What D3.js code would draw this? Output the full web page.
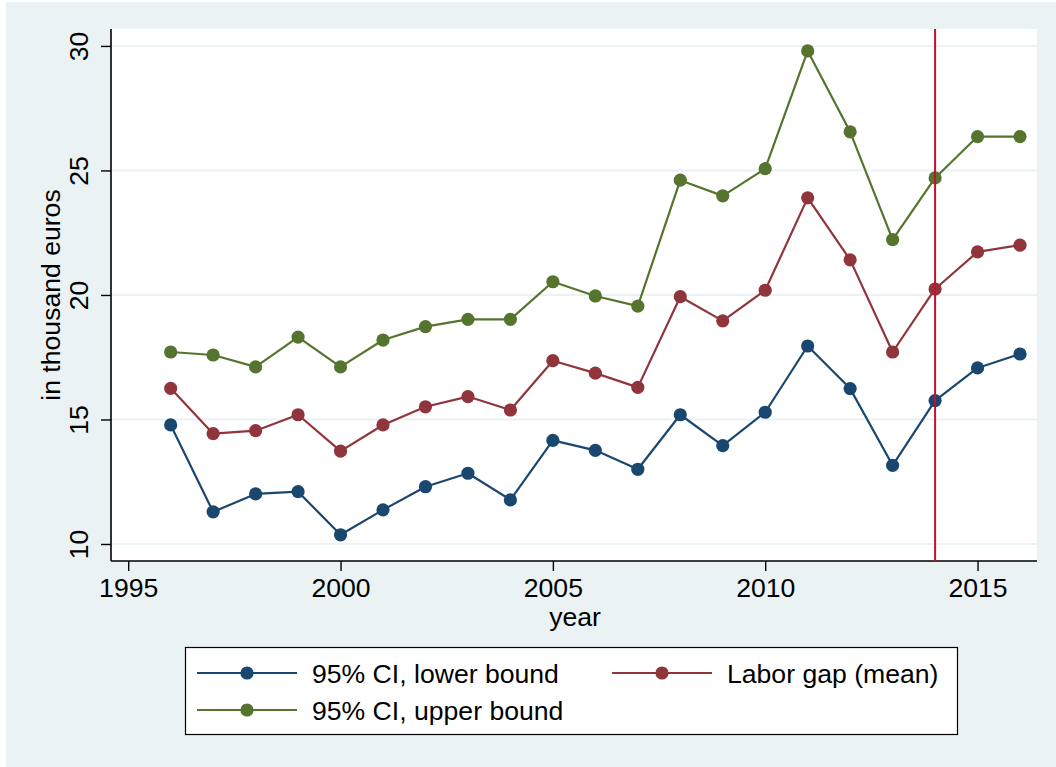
<!DOCTYPE html>
<html>
<head>
<meta charset="utf-8">
<script src="https://cdn.jsdelivr.net/npm/d3@7"></script>
<style>
  html, body { margin: 0; padding: 0; background: #ffffff; }
  svg { display: block; font-family: "Liberation Sans", Arial, sans-serif; }
</style>
</head>
<body>
<svg id="chart" width="1056" height="767"></svg>
<script>
// Labor gap estimates by year, in thousand euros
const years = [1996, 1997, 1998, 1999, 2000, 2001, 2002, 2003, 2004, 2005, 2006,
               2007, 2008, 2009, 2010, 2011, 2012, 2013, 2014, 2015, 2016];
const lowerBound = [14.78, 11.29, 12.01, 12.10, 10.37, 11.37, 12.30, 12.84, 11.77, 14.16, 13.76,
                    13.00, 15.19, 13.95, 15.29, 17.95, 16.24, 13.16, 15.76, 17.07, 17.63];
const meanGap    = [16.25, 14.43, 14.55, 15.19, 13.73, 14.78, 15.51, 15.92, 15.38, 17.36, 16.86,
                    16.29, 19.93, 18.96, 20.19, 23.90, 21.41, 17.71, 20.24, 21.73, 22.00];
const upperBound = [17.71, 17.59, 17.11, 18.31, 17.11, 18.19, 18.73, 19.02, 19.02, 20.53, 19.96,
                    19.55, 24.61, 23.98, 25.07, 29.80, 26.55, 22.22, 24.70, 26.36, 26.36];
const xTicks = [1995, 2000, 2005, 2010, 2015];
const yTicks = [10, 15, 20, 25, 30];
const markerYear = 2014;

const seriesNames = ["95% CI, lower bound", "Labor gap (mean)", "95% CI, upper bound"];
const seriesColors = ["#1a476f", "#90353b", "#55752f"];
const seriesValues = [lowerBound, meanGap, upperBound];

const svg = d3.select("#chart");
const W = 1056, H = 767;
const fontSize = 26.6;
const markerR = 6.6;

// outer graph region
svg.append("rect").attr("x", 6).attr("y", 2).attr("width", W - 6).attr("height", H - 2)
  .attr("fill", "#eaf2f3");

// plot region
const plot = { left: 111, right: 1037, top: 29, bottom: 561 };
svg.append("rect").attr("x", plot.left).attr("y", plot.top)
  .attr("width", plot.right - plot.left).attr("height", plot.bottom - plot.top)
  .attr("fill", "#ffffff");

const x = d3.scaleLinear().domain([1994.595, 2016.4]).range([plot.left, plot.right]);
const y = d3.scaleLinear().domain([9.317, 30.68]).range([plot.bottom, plot.top]);

// horizontal grid lines
svg.append("g").selectAll("line").data(yTicks).join("line")
  .attr("x1", plot.left).attr("x2", plot.right)
  .attr("y1", d => y(d)).attr("y2", d => y(d))
  .attr("stroke", "#eaf2f3").attr("stroke-width", 2);

// y axis
const yAxis = svg.append("g").attr("transform", `translate(${plot.left},0)`)
  .call(d3.axisLeft(y).tickValues(yTicks).tickSize(10).tickPadding(0).tickFormat(d3.format("d")));
yAxis.select(".domain").attr("stroke", "#000").attr("stroke-width", 1.6)
  .attr("d", `M0,${plot.top}V${plot.bottom}`);
yAxis.selectAll(".tick line").attr("stroke", "#000").attr("stroke-width", 1.4);
yAxis.selectAll(".tick text")
  .attr("font-size", fontSize).attr("fill", "#000")
  .attr("x", 0).attr("y", 0).attr("dy", 0)
  .attr("text-anchor", "middle")
  .attr("transform", "translate(-23,0) rotate(-90)");

// x axis
const xAxis = svg.append("g").attr("transform", `translate(0,${plot.bottom})`)
  .call(d3.axisBottom(x).tickValues(xTicks).tickSize(10).tickPadding(6).tickFormat(d3.format("d")));
xAxis.select(".domain").attr("stroke", "#000").attr("stroke-width", 1.6)
  .attr("d", `M${plot.left},0H${plot.right}`);
xAxis.selectAll(".tick line").attr("stroke", "#000").attr("stroke-width", 1.4);
xAxis.selectAll(".tick text").attr("font-size", fontSize).attr("fill", "#000")
  .attr("dy", "0.76em");

// axis titles
svg.append("text").attr("x", (plot.left + plot.right) / 2 + 1).attr("y", 626)
  .attr("text-anchor", "middle").attr("font-size", fontSize).attr("fill", "#000")
  .text("year");
svg.append("text")
  .attr("transform", `translate(60,${(plot.top + plot.bottom) / 2}) rotate(-90)`)
  .attr("text-anchor", "middle").attr("font-size", fontSize).attr("fill", "#000")
  .text("in thousand euros");

// series lines and markers
const line = d3.line().x((d, i) => x(years[i])).y(d => y(d));
seriesValues.forEach((vals, k) => {
  svg.append("path").datum(vals)
    .attr("d", line).attr("fill", "none")
    .attr("stroke", seriesColors[k]).attr("stroke-width", 2.2)
    .attr("stroke-linejoin", "round");
  svg.append("g").selectAll("circle").data(vals).join("circle")
    .attr("cx", (d, i) => x(years[i])).attr("cy", d => y(d))
    .attr("r", markerR).attr("fill", seriesColors[k]);
});

// reference line
svg.append("line")
  .attr("x1", x(markerYear)).attr("x2", x(markerYear))
  .attr("y1", plot.top).attr("y2", plot.bottom)
  .attr("stroke", "#c8102e").attr("stroke-width", 2);

// legend
const legend = svg.append("g");
legend.append("rect").attr("x", 185.5).attr("y", 647.5).attr("width", 772).attr("height", 87)
  .attr("fill", "#ffffff").attr("stroke", "#000").attr("stroke-width", 1.2);
const legendPos = [
  { lx: 197, ty: 673 },
  { lx: 612, ty: 673 },
  { lx: 197, ty: 710 }
];
seriesNames.forEach((name, k) => {
  const p = legendPos[k];
  legend.append("line").attr("x1", p.lx).attr("x2", p.lx + 100)
    .attr("y1", p.ty).attr("y2", p.ty)
    .attr("stroke", seriesColors[k]).attr("stroke-width", 2.2);
  legend.append("circle").attr("cx", p.lx + 50).attr("cy", p.ty).attr("r", markerR)
    .attr("fill", seriesColors[k]);
  legend.append("text").attr("x", p.lx + 115).attr("y", p.ty).attr("dy", "0.36em")
    .attr("font-size", fontSize).attr("fill", "#000").text(name);
});
</script>
</body>
</html>
